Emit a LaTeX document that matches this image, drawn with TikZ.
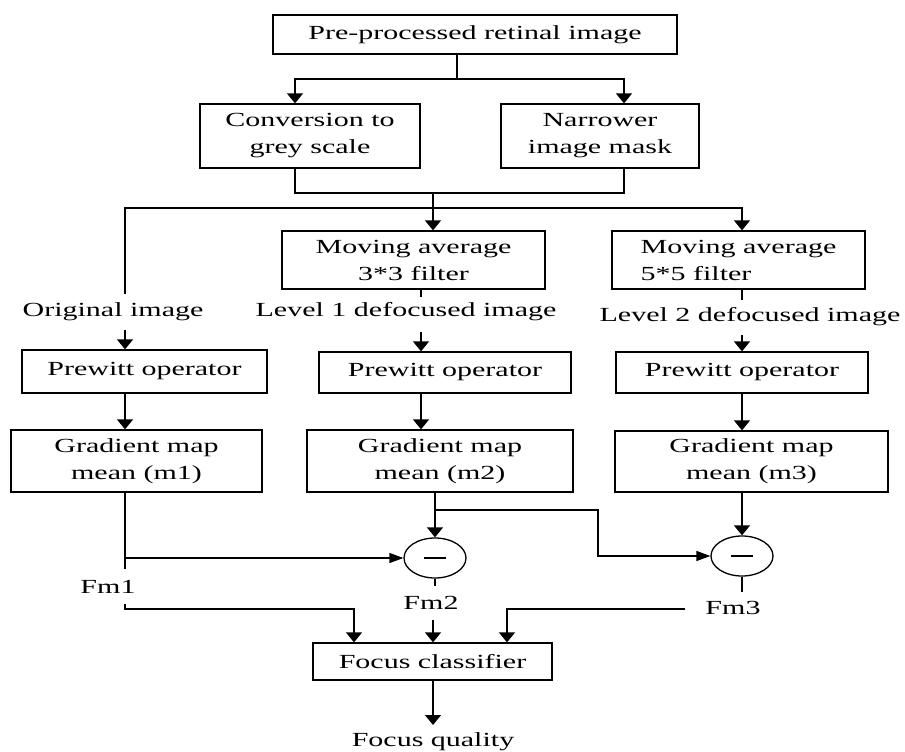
\documentclass[tikz,border=0pt]{standalone}
\usepackage{fontspec}
\setmainfont{Liberation Serif}[FakeStretch=1.5]
\usetikzlibrary{arrows.meta,shapes.geometric}
\begin{document}
\begin{tikzpicture}[x=1pt,y=-1pt,
  every node/.style={font=\fontsize{20}{27}\selectfont},
  box/.style={draw,line width=1.3pt,inner sep=0pt,align=center},
  lab/.style={inner sep=0pt},
  ln/.style={line width=1.3pt},
  arrd/.style={ln,-{Triangle[length=10pt,width=16pt]}},
  arrr/.style={ln,-{Triangle[length=14pt,width=10pt]}},
  summ/.style={draw,ellipse,line width=1.3pt,minimum width=62pt,minimum height=40pt,inner sep=0pt}]
\fill[white] (0,0) rectangle (905,752);
\useasboundingbox (0,0) rectangle (905,752);

% boxes
\node[box,minimum width=404pt,minimum height=39pt] (top) at (475,34.5) {Pre-processed retinal image};
\node[box,minimum width=220pt,minimum height=64pt] (conv) at (310,136) {Conversion to\\grey scale};
\node[box,minimum width=198pt,minimum height=64pt] (narrow) at (600,136) {Narrower\\image mask};
\node[box,minimum width=263pt,minimum height=58pt] (ma3) at (413.5,260) {Moving average\\3*3 filter};
\node[box,align=left,minimum width=253pt,minimum height=58pt] (ma5) at (738.5,260) {Moving average\\5*5 filter};
\node[box,minimum width=245pt,minimum height=43pt] (pw1) at (144.5,371.5) {Prewitt operator};
\node[box,minimum width=252pt,minimum height=41pt] (pw2) at (445,372.5) {Prewitt operator};
\node[box,minimum width=252pt,minimum height=41pt] (pw3) at (742,372.5) {Prewitt operator};
\node[box,minimum width=251pt,minimum height=62pt] (gr1) at (136.5,461) {Gradient map\\mean (m1)};
\node[box,minimum width=266pt,minimum height=62pt] (gr2) at (440,461) {Gradient map\\mean (m2)};
\node[box,minimum width=273pt,minimum height=61pt] (gr3) at (751.5,461.5) {Gradient map\\mean (m3)};
\node[summ] (s2) at (435,558) {};
\node[summ] (s3) at (742,556) {};
\node[box,minimum width=239pt,minimum height=37pt] (fc) at (432.5,661.5) {Focus classifier};

% labels
\node[lab] (orig) at (113,312) {Original image};
\node[lab] (lvl1) at (406,312) {Level 1 defocused image};
\node[lab] (lvl2) at (750,317) {Level 2 defocused image};
\node[lab] (fm1) at (108,587) {Fm1};
\node[lab] (fm2) at (431,603) {Fm2};
\node[lab] (fm3) at (733,608) {Fm3};
\node[lab] (fq) at (433,742) {Focus quality};

% minus signs
\draw[line width=1.2pt] ([xshift=-11pt]s2.center) -- ([xshift=11pt]s2.center);
\draw[line width=1.2pt] ([xshift=-11pt]s3.center) -- ([xshift=11pt]s3.center);

% helper coordinates
\coordinate (xA) at (125,0);
\coordinate (xB) at (421,0);
\coordinate (xC) at (742,0);
\coordinate (xconv) at (295,0);
\coordinate (xnar) at (624,0);
\coordinate (t1) at (457,79);
\coordinate (t2) at (433,193);
\coordinate (t3) at (433,208);
\coordinate (oend) at (125,294);
\coordinate (o1) at (125,330);
\coordinate (o2) at (421,332);
\coordinate (o3) at (742,335);
\coordinate (g1e) at (125,569);
\coordinate (b1) at (435,510);
\coordinate (xb) at (598,0);
\coordinate (m1) at (125,604);
\coordinate (k1) at (354,609);
\coordinate (m2) at (433,620);
\coordinate (m3) at (685,609);
\coordinate (k3) at (507,609);
\coordinate (q) at (433,725);

% connectors top
\draw[ln] (top.south -| t1) -- (t1);
\draw[arrd] (t1) -| (conv.north -| xconv);
\draw[arrd] (t1) -| (narrow.north -| xnar);
\draw[ln] (conv.south -| xconv) |- (t2);
\draw[ln] (narrow.south -| xnar) |- (t2);
\draw[arrd] (t2) -- (ma3.north -| t2);
\draw[ln] (t3) -| (oend);
\draw[arrd] (t3) -| (ma5.north -| xC);
\draw[ln] (ma3.south -| xB) -- ++(0,7);
\draw[ln] (ma5.south -| xC) -- ++(0,10);

% to Prewitt
\draw[arrd] (o1) -- (pw1.north -| o1);
\draw[arrd] (o2) -- (pw2.north -| o2);
\draw[arrd] (o3) -- (pw3.north -| o3);

% Prewitt to gradient
\draw[arrd] (pw1.south -| xA) -- (gr1.north -| xA);
\draw[arrd] (pw2.south -| xB) -- (gr2.north -| xB);
\draw[arrd] (pw3.south -| xC) -- (gr3.north -| xC);

% gradient to subtractors
\draw[ln] (gr1.south -| xA) -- (g1e);
\draw[arrr] (xA |- s2) -- (s2.west);
\draw[arrd] (gr2.south -| s2) -- (s2.north);
\draw[arrr] (b1) -| (xb |- s3) -- (s3.west);
\draw[arrd] (gr3.south -| s3) -- (s3.north);
\draw[ln] (s2.south) -- ++(0,7);
\draw[ln] (s3.south) -- ++(0,15);

% to classifier
\draw[arrd] (m1) |- (k1) -- (fc.north -| k1);
\draw[arrd] (m2) -- (fc.north -| m2);
\draw[arrd] (m3) -- (k3) -- (fc.north -| k3);
\draw[arrd] (fc.south -| m2) -- (q);
\end{tikzpicture}
\end{document}
